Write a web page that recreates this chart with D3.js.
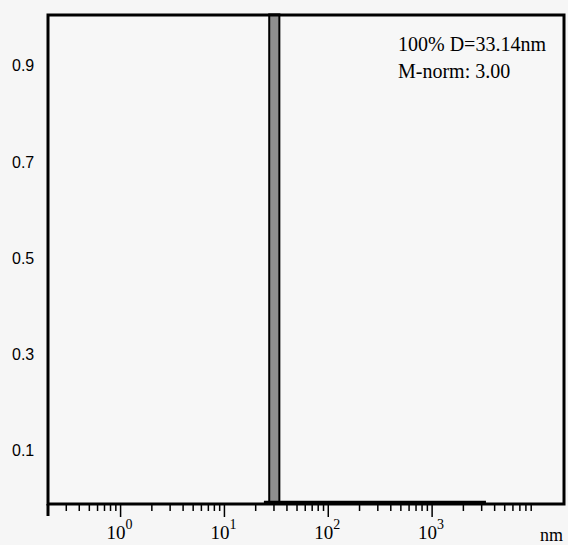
<!DOCTYPE html>
<html>
<head>
<meta charset="utf-8">
<script src="https://cdn.jsdelivr.net/npm/d3@7"></script>
<style>
  body { margin: 0; background: #f6f6f6; }
  svg { display: block; }
</style>
</head>
<body>
<svg id="chart" width="568" height="545"></svg>
<script>
// size distribution: one bin holds all of it
const binEdges = [27, 33.8];
const binValue = [1.0];
const baseLine = [[24, 0], [27, 0], [33.8, 0], [3300, 0]];
const yTicks = [0.1, 0.3, 0.5, 0.7, 0.9];
const xMajor = [1, 10, 100, 1000];
const notes = ["100% D=33.14nm", "M-norm: 3.00"];

const svg = d3.select("#chart");
const mLeft = 48, mRight = 564, mTop = 15, mBottom = 504;

const x = d3.scaleLog().domain([0.2, Math.pow(10, 4.27)]).range([mLeft, mRight]);
const y = d3.scaleLinear().domain([-0.012, 1.005]).range([mBottom, mTop]);

// plot area
svg.append("rect")
  .attr("x", mLeft).attr("y", mTop)
  .attr("width", mRight - mLeft).attr("height", mBottom - mTop)
  .attr("fill", "#f7f7f7");

// bar
svg.append("rect")
  .attr("x", x(binEdges[0]))
  .attr("y", y(binValue[0]) - 3)
  .attr("width", x(binEdges[1]) - x(binEdges[0]))
  .attr("height", mBottom - y(binValue[0]) + 3)
  .attr("fill", "#8e8e8e")
  .attr("stroke", "#000")
  .attr("stroke-width", 2);

// zero line of the distribution (sits on the axis)
svg.append("path")
  .datum(baseLine)
  .attr("fill", "none")
  .attr("stroke", "#000")
  .attr("stroke-width", 2.5)
  .attr("d", d3.line().x(d => x(d[0])).y(d => mBottom - 2 - (y(d[1]) - y(0))));

// frame
svg.append("rect")
  .attr("x", mLeft).attr("y", mTop)
  .attr("width", mRight - mLeft).attr("height", mBottom - mTop)
  .attr("fill", "none")
  .attr("stroke", "#000")
  .attr("stroke-width", 3);

// left axis runs below the frame
svg.append("line")
  .attr("x1", mLeft).attr("x2", mLeft)
  .attr("y1", mBottom).attr("y2", mBottom + 12)
  .attr("stroke", "#000").attr("stroke-width", 3);

// x ticks
const minor = [];
for (let e = -1; e <= 3; e++) {
  for (let m = 1; m <= 9; m++) {
    const v = m * Math.pow(10, e);
    if (v > 0.25 && v < 10000 && xMajor.indexOf(v) < 0) minor.push(v);
  }
}
svg.append("g").selectAll("line").data(minor).join("line")
  .attr("x1", d => x(d)).attr("x2", d => x(d))
  .attr("y1", mBottom).attr("y2", mBottom + 7)
  .attr("stroke", "#000").attr("stroke-width", 1.5);
svg.append("g").selectAll("line").data(xMajor).join("line")
  .attr("x1", d => x(d)).attr("x2", d => x(d))
  .attr("y1", mBottom).attr("y2", mBottom + 13)
  .attr("stroke", "#000").attr("stroke-width", 1.5);

const xl = svg.append("g").selectAll("text").data(xMajor).join("text")
  .attr("x", d => x(d) - 1).attr("y", 539)
  .attr("text-anchor", "middle")
  .attr("font-family", "Liberation Serif")
  .attr("font-size", 19);
xl.append("tspan").text("10");
xl.append("tspan").attr("dy", -10).attr("font-size", 14)
  .text(d => Math.round(Math.log10(d)));

svg.append("text")
  .attr("x", 540).attr("y", 541)
  .attr("font-family", "Liberation Serif")
  .attr("font-size", 18)
  .text("nm");

// y labels
svg.append("g").selectAll("text").data(yTicks).join("text")
  .attr("x", 12).attr("y", d => y(d) + 6)
  .attr("font-family", "Liberation Sans")
  .attr("font-size", 16)
  .text(d => d.toFixed(1));

// notes
svg.append("g").selectAll("text").data(notes).join("text")
  .attr("x", 398).attr("y", (d, i) => 51 + i * 27)
  .attr("font-family", "Liberation Serif")
  .attr("font-size", 20)
  .text(d => d);
</script>
</body>
</html>
